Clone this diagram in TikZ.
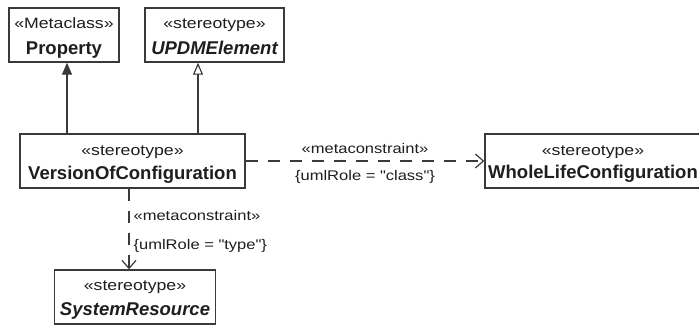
\documentclass[tikz,border=0pt]{standalone}
\usepackage{fontspec}
\setmainfont{Liberation Sans}
\newfontfamily\stereofont[FakeStretch=1.18]{Liberation Sans}
\usetikzlibrary{arrows.meta}
\definecolor{umlline}{HTML}{3A3A3A}
\definecolor{umltext}{HTML}{1E1E1E}

\begin{document}
\begin{tikzpicture}[x=1pt, y=-1pt,
    umlbox/.style={draw=umlline, line width=1.4pt, fill=white, inner sep=0pt, minimum height=54pt},
    stereo/.style={anchor=base, inner sep=0pt, text=umltext, font=\stereofont\fontsize{15}{18}\selectfont},
    cname/.style={anchor=base, inner sep=0pt, text=umltext, font=\fontsize{18.5}{22}\selectfont\bfseries},
    aname/.style={cname, font=\fontsize{18.5}{22}\selectfont\bfseries\itshape},
    note/.style={inner sep=0pt, text=umltext, font=\stereofont\fontsize{14}{17}\selectfont},
    conn/.style={draw=umlline, line width=1.2pt},
    dep/.style={conn, dash pattern=on 12pt off 10pt, -{Straight Barb[length=8pt, width=14pt]}},
    ]
    \useasboundingbox (0,0) rectangle (699,325);
    \fill[white] (0,0) rectangle (699,325);

    % metaclass and generalisation targets
    \node[umlbox, minimum width=110pt] (prop) at (64,35) {};
    \node[stereo] (propS) at (64,28) {«Metaclass»};
    \node[cname] (propN) at (64,54) {Property};

    \node[umlbox, minimum width=139pt] (updm) at (214.5,35) {};
    \node[stereo] (updmS) at (214.5,28) {«stereotype»};
    \node[aname] (updmN) at (214.5,54) {UPDMElement};

    % the stereotype itself
    \node[umlbox, minimum width=225pt] (voc) at (132.5,161) {};
    \node[stereo] (vocS) at (132.5,155) {«stereotype»};
    \node[cname] (vocN) at (132.5,179) {VersionOfConfiguration};

    \node[umlbox, minimum width=216pt] (wlc) at (593,161) {};
    \node[stereo] (wlcS) at (593,155) {«stereotype»};
    \node[cname] (wlcN) at (593,178) {WholeLifeConfiguration};

    \node[umlbox, minimum width=161pt] (sres) at (135,297) {};
    \node[stereo] (sresS) at (135,290) {«stereotype»};
    \node[aname] (sresN) at (135,315) {SystemResource};

    % extension / generalisation
    \draw[conn, -{Triangle[length=12pt, width=10pt, fill=umlline]}]
        ([xshift=3pt]prop.south |- voc.north) -- ([xshift=3pt]prop.south);
    \draw[conn, -{Triangle[open, length=12pt, width=10pt]}]
        ([xshift=-16.5pt]updm.south |- voc.north) -- ([xshift=-16.5pt]updm.south);

    % metaconstraints
    \draw[dep] (voc.east) -- (wlc.west)
        node[midway, note, above=7pt] (mcClass) {«metaconstraint»}
        node[midway, note, below=9pt] (roleClass) {\{umlRole = "class"\}};
    \draw[dep] ([xshift=-3.5pt]voc.south) -- ([xshift=-3.5pt]voc.south |- sres.north)
        node[pos=.39, note, anchor=base west, xshift=4pt] (mcType) {«metaconstraint»}
        node[pos=.756, note, anchor=base west, xshift=4pt] (roleType) {\{umlRole = "type"\}};
\end{tikzpicture}
\end{document}
